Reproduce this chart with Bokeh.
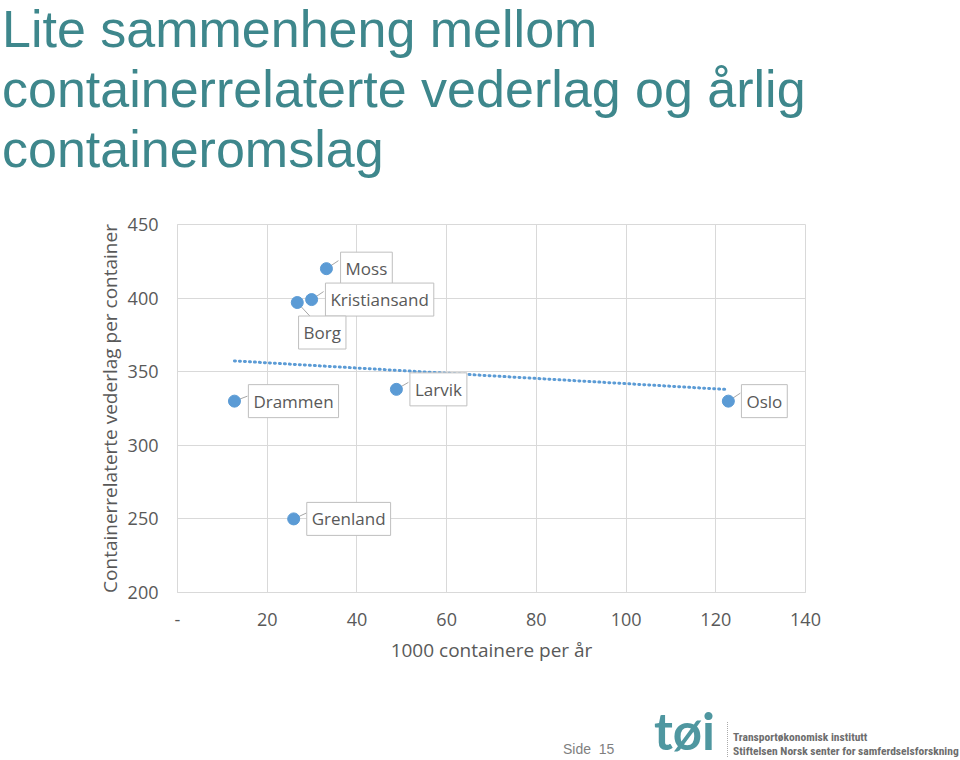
from bokeh.plotting import figure
from bokeh.models import Label, Range1d, FixedTicker, ColumnDataSource, Div
from bokeh.layouts import column
from bokeh.embed import file_html
from bokeh.resources import INLINE
import numpy as np

# ---- data ----
ports = ["Moss", "Kristiansand", "Borg", "Drammen", "Larvik", "Oslo", "Grenland"]
containers_k = [33.2, 29.9, 26.7, 12.7, 48.8, 122.8, 25.9]   # 1000 containere per år
fee_per_container = [420, 399, 397, 330, 338, 330, 250]        # vederlag per container

x_ticks = [0, 20, 40, 60, 80, 100, 120, 140]
y_ticks = [200, 250, 300, 350, 400, 450]
title_lines = ["Lite sammenheng mellom",
               "containerrelaterte vederlag og årlig",
               "containeromslag"]
x_label = "1000 containere per år"
y_label = "Containerrelaterte vederlag per container"
page_text = "Side&nbsp;&nbsp;15"
org_lines = ["Transportøkonomisk institutt",
             "Stiftelsen Norsk senter for samferdselsforskning"]

# ---- styling / label placement (pixels) ----
label_off = {  # text centre offset from point (dx, dy), y up
    "Moss": (40, 0), "Kristiansand": (68, 0), "Borg": (25, -30),
    "Drammen": (59, 0), "Larvik": (42, 0), "Oslo": (36, 0), "Grenland": (55, 0)}
leader_end = {  # leader line end offset from point (dx, dy), y up
    "Moss": (12, 8), "Kristiansand": (12, 8), "Borg": (13, -14),
    "Drammen": (13, 5), "Larvik": (12, 7), "Oslo": (12, 8), "Grenland": (13, 6)}

TEAL = "#3E878C"
GREY = "#595959"
BLUE = "#5B9BD5"
GRID = "#d9d9d9"

W = 960
TITLE_H, PLOT_H, FOOT_H = 200, 500, 60
ML, MR, MT = 177, 155, 24
FW, FH = W - ML - MR, 368
MB = PLOT_H - MT - FH
X0, X1, Y0, Y1 = 0, 140, 200, 450
sx = FW / (X1 - X0)
sy = FH / (Y1 - Y0)

# ---- title ----
title_spans = "".join(
    '<div style="position:absolute;left:2px;top:%dpx;font-family:\'Liberation Sans\',Arial,sans-serif;'
    'font-size:52px;line-height:58px;color:%s;white-space:nowrap;">%s</div>' % (60 * i, TEAL, t)
    for i, t in enumerate(title_lines))
title_div = Div(text='<div style="position:relative;width:960px;height:200px;">%s</div>' % title_spans,
                width=W, height=TITLE_H, margin=(0, 0, 0, 0))

# ---- plot ----
p = figure(width=W, height=PLOT_H, output_backend="svg", toolbar_location=None,
           x_range=Range1d(X0, X1), y_range=Range1d(Y0, Y1),
           min_border_left=ML, min_border_right=MR,
           min_border_top=MT, min_border_bottom=MB, margin=(0, 0, 0, 0))
p.background_fill_color = "white"
p.border_fill_color = "white"
p.outline_line_color = GRID

for ax in (p.xaxis[0], p.yaxis[0]):
    ax.major_tick_line_color = None
    ax.minor_tick_line_color = None
    ax.axis_line_color = GRID
    ax.major_label_text_color = GREY
    ax.major_label_text_font = "Open Sans"
    ax.major_label_text_font_size = "18px"
    ax.axis_label_text_color = GREY
    ax.axis_label_text_font = "Open Sans"
    ax.axis_label_text_font_size = "19px"
    ax.axis_label_text_font_style = "normal"

p.xaxis.ticker = FixedTicker(ticks=x_ticks)
p.yaxis.ticker = FixedTicker(ticks=y_ticks)
p.xaxis.major_label_overrides = {0: "-"}
p.xaxis.major_label_standoff = 14
p.yaxis.major_label_standoff = 13
p.xaxis.axis_label = x_label
p.yaxis.axis_label = y_label
p.xaxis.axis_label_standoff = 8
p.yaxis.axis_label_standoff = 2

p.xgrid.ticker = FixedTicker(ticks=x_ticks)
p.ygrid.ticker = FixedTicker(ticks=y_ticks)
p.xgrid.grid_line_color = GRID
p.ygrid.grid_line_color = GRID

# trendline (least squares)
xa = np.array(containers_k)
ya = np.array(fee_per_container)
slope, icpt = np.polyfit(xa, ya, 1)
tx = [xa.min(), xa.max()]
p.line(tx, [slope * t + icpt for t in tx], line_color=BLUE, line_width=3,
       line_dash="1 4", line_cap="round")

# leader lines
lx0, ly0, lx1, ly1 = [], [], [], []
for n, x, y in zip(ports, containers_k, fee_per_container):
    dx, dy = leader_end[n]
    lx0.append(x); ly0.append(y)
    lx1.append(x + dx / sx); ly1.append(y + dy / sy)
p.segment(lx0, ly0, lx1, ly1, line_color="#a6a6a6", line_width=1)

src = ColumnDataSource(dict(x=containers_k, y=fee_per_container, name=ports))
p.scatter("x", "y", source=src, size=12, fill_color=BLUE, line_color=BLUE)

for n, x, y in zip(ports, containers_k, fee_per_container):
    dx, dy = label_off[n]
    p.add_layout(Label(x=x, y=y, x_offset=dx, y_offset=dy, text=n,
                       text_align="center", text_baseline="middle",
                       text_font="Open Sans", text_font_size="17px",
                       text_color=GREY, background_fill_color="white",
                       border_line_color="#bfbfbf", border_line_width=1,
                       padding=5))

# ---- footer ----
foot_html = (
    '<div style="position:relative;width:960px;height:60px;">'
    '<span style="position:absolute;left:563px;top:42px;font-family:\'Liberation Sans\',Arial,sans-serif;'
    'font-size:14px;line-height:14px;color:#7f7f7f;white-space:nowrap;">%s</span>'
    '<span style="position:absolute;left:654px;top:0px;font-family:Lato,sans-serif;font-weight:bold;'
    'font-size:51px;line-height:61px;color:#4f97a0;white-space:nowrap;">tøi</span>'
    '<span style="position:absolute;left:727px;top:22px;height:35px;border-left:1px dotted #aaaaaa;"></span>'
    '<span style="position:absolute;left:733px;top:31px;font-family:\'Liberation Sans Narrow\',\'Roboto Condensed\',sans-serif;'
    'font-stretch:condensed;font-weight:bold;font-size:11.5px;line-height:13px;color:#6d6d6d;white-space:nowrap;">%s</span>'
    '<span style="position:absolute;left:733px;top:45px;font-family:\'Liberation Sans Narrow\',\'Roboto Condensed\',sans-serif;'
    'font-stretch:condensed;font-weight:bold;font-size:11.5px;line-height:13px;color:#6d6d6d;white-space:nowrap;">%s</span>'
    '</div>' % (page_text, org_lines[0], org_lines[1]))
foot_div = Div(text=foot_html, width=W, height=FOOT_H, margin=(0, 0, 0, 0))

layout = column(title_div, p, foot_div, spacing=0, margin=(0, 0, 0, 0))
open("out.html", "w").write(file_html(layout, INLINE))
